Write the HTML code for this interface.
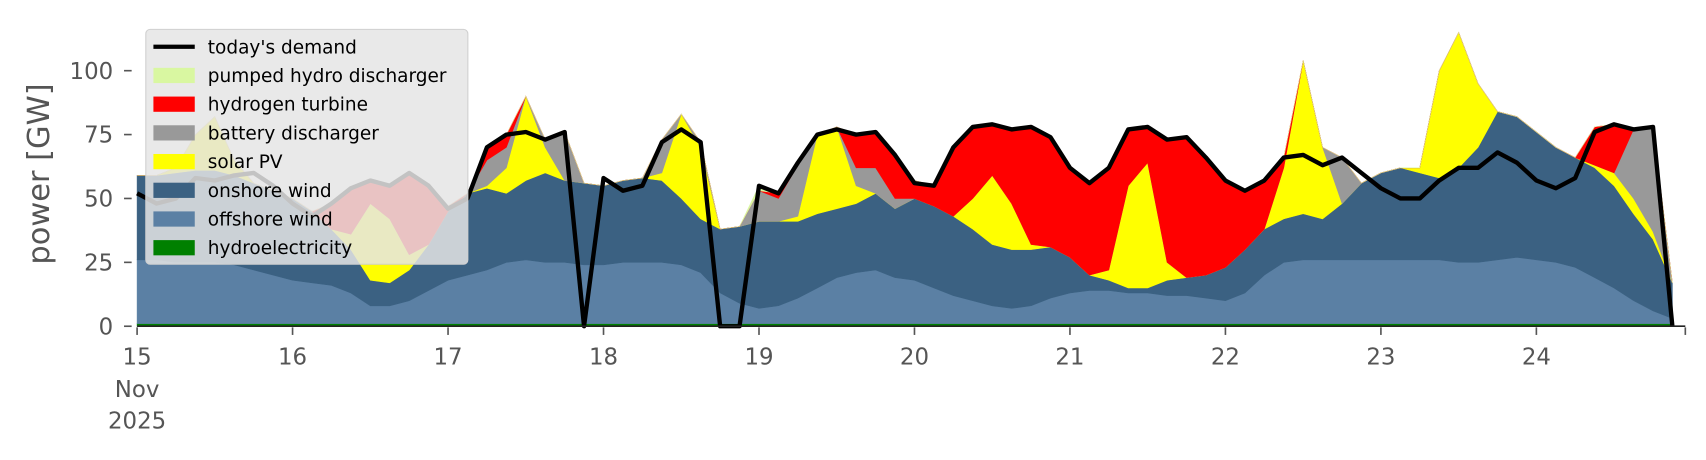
<!DOCTYPE html>
<html><head><meta charset="utf-8"><style>
html,body{margin:0;padding:0;background:#fff;}
svg{display:block;font-family:"DejaVu Sans","Liberation Sans",sans-serif;}
</style></head>
<body>
<svg id="chart" width="1706" height="460" viewBox="0 0 1568 423" preserveAspectRatio="none" xmlns="http://www.w3.org/2000/svg">
<g id="areas"></g>
<g id="demand"></g>
<g id="axes"></g>
<text transform="translate(45,160) rotate(-90)" text-anchor="middle" font-size="28" fill="#555">power [GW]</text>
<g id="legend">
  <rect x="134" y="27" width="296" height="216" rx="4" fill="#e5e5e5" fill-opacity="0.85" stroke="#d0d0d0"/>
</g>
</svg>
<script>
// time step: 3 hours, starting 15 Nov 2025 00:00 (day number 15)
const startDay = 15;
const stepDays = 0.125;
const hydro = Array(80).fill(1);
const offshore = [25,25,24,24,24,23,21,19,17,16,15,12,7,7,9,13,17,19,21,24,25,24,24,23,23,24,24,24,23,20,12,8,6,7,10,14,18,20,21,18,17,14,11,9,7,6,7,10,12,13,13,12,12,11,11,10,9,12,19,24,25,25,25,25,25,25,25,25,24,24,25,26,25,24,22,18,14,9,5,2];
const onshore = [33,33,35,36,36,35,34,33,32,28,22,17,10,9,12,18,27,32,32,27,31,35,32,32,31,32,33,32,26,21,25,30,34,33,30,29,27,27,30,27,32,32,31,28,24,23,22,20,14,6,4,2,2,6,7,9,13,17,18,17,18,16,22,30,34,36,34,32,37,45,58,55,50,45,43,43,40,34,28,14];
const solar = [0,0,2,14,21,6,0,0,0,0,0,6,30,25,6,0,0,0,1,10,33,10,0,0,0,0,0,3,33,28,0,0,0,0,2,31,32,7,0,0,0,0,0,12,27,18,2,0,0,0,4,40,49,7,0,0,0,0,0,20,60,28,0,0,0,0,2,42,53,25,0,0,0,0,0,1,5,6,3,0];
const battery = [0,0,0,0,0,0,0,0,0,0,0,0,0,0,0,0,0,0,10,8,0,3,19,0,0,0,0,13,0,2,0,0,12,9,20,0,0,7,10,4,0,0,0,0,0,0,0,0,0,0,0,0,0,0,0,0,0,0,0,0,0,0,18,0,0,0,0,0,0,0,0,0,0,0,0,0,0,27,41,0];
const hydrogen = [0,0,0,0,0,0,0,0,0,0,10,18,9,13,32,23,2,0,5,5,0,0,0,0,0,0,0,0,0,0,0,0,0,2,1,0,0,13,14,17,7,8,27,28,20,29,46,43,35,36,40,22,14,48,55,46,34,23,19,4,0,0,0,0,0,0,0,0,0,0,0,0,0,0,0,15,19,0,0,0];
const pumpedHydro = [0,0,0,0,0,0,0,0,0,0,0,0,0,0,0,0,0,0,0,0,0,0,0,0,0,0,0,0,0,0,0,0,2,0,0,0,0,0,0,0,0,0,0,0,0,0,0,0,0,0,0,0,0,0,0,0,0,0,0,0,0,0,0,0,0,0,0,0,0,0,0,0,0,0,0,0,0,0,0,0];
const demand = [52,48,50,58,57,59,60,55,48,43,48,54,57,55,60,55,46,50,70,75,76,73,76,0,58,53,55,72,77,72,0,0,55,52,64,75,77,75,76,67,56,55,70,78,79,77,78,74,62,56,62,77,78,73,74,66,57,53,57,66,67,63,66,60,54,50,50,57,62,62,68,64,57,54,58,76,79,77,78,0];
const yTicks = [0,25,50,75,100];
const xTickDays = [15,16,17,18,19,20,21,22,23,24];

const X0 = 126, PXDAY = 142.9, Y0 = 300, PXGW = 2.35;
const xs = d => X0 + (d - startDay) * PXDAY;
const ys = v => Y0 - v * PXGW;
const NS = "http://www.w3.org/2000/svg";
const mk = (tag, attrs, parent) => { const e = document.createElementNS(NS, tag); for (const k in attrs) e.setAttribute(k, attrs[k]); parent.appendChild(e); return e; };

const layers = [
  {vals: hydro, color: "#008000", name: "hydroelectricity-area"},
  {vals: offshore, color: "#5b80a4", name: "offshore-wind-area"},
  {vals: onshore, color: "#3b6182", name: "onshore-wind-area"},
  {vals: solar, color: "#ffff00", name: "solar-pv-area"},
  {vals: battery, color: "#999999", name: "battery-discharger-area"},
  {vals: hydrogen, color: "#ff0000", name: "hydrogen-turbine-area"},
  {vals: pumpedHydro, color: "#d9f7a1", name: "pumped-hydro-area"}
];
const areasG = document.getElementById('areas');
let base = Array(demand.length).fill(0);
layers.forEach(L => {
  const top = base.map((b, i) => b + L.vals[i]);
  let d = "";
  top.forEach((v, i) => { d += (i ? "L" : "M") + xs(startDay + i * stepDays).toFixed(1) + "," + ys(v).toFixed(1); });
  for (let i = base.length - 1; i >= 0; i--) d += "L" + xs(startDay + i * stepDays).toFixed(1) + "," + ys(base[i]).toFixed(1);
  d += "Z";
  const p = mk('path', {d: d, fill: L.color, stroke: L.color, 'stroke-width': 0.5}, areasG);
  
  
  base = top;
});

const demG = document.getElementById('demand');
let dd = "";
demand.forEach((v, i) => { dd += (i ? "L" : "M") + xs(startDay + i * stepDays).toFixed(1) + "," + ys(v).toFixed(1); });
const dl = mk('path', {d: dd, fill: "none", stroke: "#000", 'stroke-width': 4, 'stroke-linejoin': 'round'}, demG);



const ax = document.getElementById('axes');
const xl = mk('line', {x1: 126, x2: 1549, y1: 300, y2: 300, stroke: "#222", 'stroke-width': 1.5}, ax);


yTicks.forEach(v => {
  const t = mk('line', {x1: 114, x2: 121, y1: ys(v), y2: ys(v), stroke: "#555", 'stroke-width': 1.5}, ax);
  
  
  const l = mk('text', {x: 104, y: ys(v) + 7.5, 'text-anchor': 'end', 'font-size': 21, fill: "#555"}, ax);
  l.textContent = v;
  
  
});
xTickDays.forEach(dy => {
  const t = mk('line', {x1: xs(dy), x2: xs(dy), y1: 301, y2: 308, stroke: "#555", 'stroke-width': 1.5}, ax);
  
  
  const l = mk('text', {x: xs(dy), y: 335, 'text-anchor': 'middle', 'font-size': 21, fill: "#555"}, ax);
  l.textContent = dy;
  
  
});
const endTick = mk('line', {x1: 1549, x2: 1549, y1: 301, y2: 308, stroke: "#555", 'stroke-width': 1.5}, ax);


["Nov", "2025"].forEach((s, k) => {
  const l = mk('text', {x: xs(15), y: 365 + k * 29, 'text-anchor': 'middle', 'font-size': 21, fill: "#555"}, ax);
  l.textContent = s;
  
  
});

const lg = document.getElementById('legend');
const entries = [
  ["today's demand", "line", "#000"],
  ["pumped hydro discharger", "#d9f7a1"],
  ["hydrogen turbine", "#ff0000"],
  ["battery discharger", "#999999"],
  ["solar PV", "#ffff00"],
  ["onshore wind", "#3b6182"],
  ["offshore wind", "#5b80a4"],
  ["hydroelectricity", "#008000"]
];
entries.forEach((e, k) => {
  const cy = 43 + k * 26.4;
  const g = mk('g', {}, lg);
  
  
  if (e[1] === "line") mk('line', {x1: 141, x2: 179, y1: cy, y2: cy, stroke: "#000", 'stroke-width': 4}, g);
  else mk('rect', {x: 141, y: cy - 7, width: 38, height: 14, fill: e[1]}, g);
  const t = mk('text', {x: 191, y: cy + 6, 'font-size': 17, fill: "#000"}, g);
  t.textContent = e[0];
});
</script>
</body></html>
